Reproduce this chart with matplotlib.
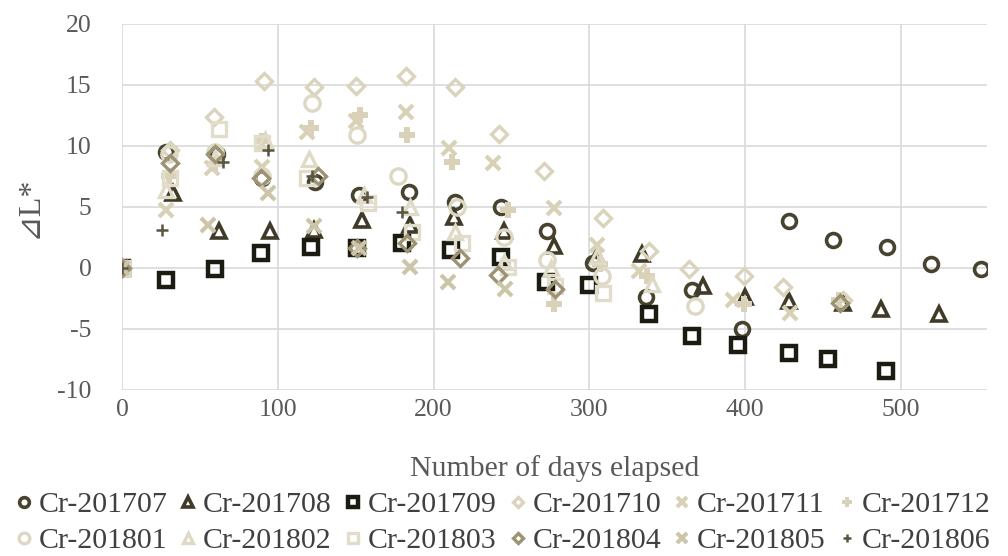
import matplotlib.pyplot as plt
import numpy as np

plt.rcParams['font.family'] = ['Liberation Serif', 'DejaVu Serif', 'DejaVu Sans']
plt.rcParams['axes.unicode_minus'] = False

# measured series (days elapsed, delta L*)
days_201707 = [0, 28, 61, 90, 124, 152, 184, 214, 243, 273, 302, 336, 366, 398, 428, 456, 491, 519, 551]
dl_201707 = [0, 9.5, 9.3, 7.4, 7.0, 6.0, 6.2, 5.4, 5.0, 3.0, 0.4, -2.4, -1.8, -5.0, 3.8, 2.3, 1.7, 0.3, -0.1]

days_201708 = [0, 33, 62, 95, 123, 154, 185, 213, 245, 277, 305, 334, 373, 400, 428, 463, 487, 524]
dl_201708 = [0, 6.1, 3.0, 3.0, 3.1, 3.9, 3.5, 4.2, 3.0, 1.8, 1.0, 1.1, -1.5, -2.4, -2.7, -2.9, -3.4, -3.8]

days_201709 = [0, 28, 60, 89, 121, 151, 180, 211, 243, 272, 300, 338, 366, 395, 428, 453, 490]
dl_201709 = [0, -1.0, -0.1, 1.2, 1.7, 1.6, 2.0, 1.5, 0.9, -1.2, -1.4, -3.8, -5.6, -6.3, -7.0, -7.5, -8.5]

days_201710 = [0, 31, 59, 91, 123, 150, 182, 214, 242, 271, 309, 338, 364, 399, 424, 463]
dl_201710 = [0, 9.7, 12.4, 15.3, 14.8, 14.9, 15.7, 14.8, 11.0, 7.9, 4.1, 1.4, -0.1, -0.7, -1.6, -2.6]

days_201711 = [0, 28, 58, 90, 119, 150, 182, 210, 238, 277, 305, 332, 392, 429]
dl_201711 = [0, 4.7, 8.2, 8.3, 11.1, 12.0, 12.8, 9.8, 8.6, 4.9, 1.9, -0.3, -2.6, -3.7]

days_201712 = [0, 30, 60, 90, 121, 153, 183, 212, 248, 277, 307, 337, 399, 460]
dl_201712 = [0, 7.5, 8.5, 10.4, 11.5, 12.5, 10.9, 8.7, 4.7, -3.0, 0.3, -0.7, -3.0, -2.6]

days_201801 = [0, 30, 60, 90, 122, 151, 177, 215, 245, 273, 308, 368]
dl_201801 = [0, 9.3, 9.5, 7.5, 13.5, 10.9, 7.5, 5.0, 2.5, 0.6, -0.7, -3.1]

days_201802 = [0, 28, 60, 92, 120, 155, 185, 214, 245, 275, 305, 340]
dl_201802 = [0, 6.4, 9.0, 10.5, 8.9, 6.0, 5.0, 2.9, 0.5, 0.0, 1.0, -1.3]

days_201803 = [0, 31, 62, 90, 119, 158, 186, 218, 248, 278, 309]
dl_201803 = [0, 7.4, 11.4, 10.2, 7.4, 5.3, 2.9, 2.0, 0.1, -1.5, -2.1]

days_201804 = [0, 31, 60, 89, 126, 151, 183, 217, 241, 278, 461]
dl_201804 = [0, 8.6, 9.3, 7.4, 7.5, 1.6, 2.0, 0.8, -0.6, -1.7, -2.9]

days_201805 = [0, 55, 94, 123, 152, 185, 209, 246]
dl_201805 = [0, 3.5, 6.1, 3.4, 1.6, 0.1, -1.2, -1.7]

days_201806 = [0, 26, 65, 94, 122, 157, 180]
dl_201806 = [0, 3.1, 8.7, 9.7, 7.5, 5.8, 4.6]

labels = ['Cr-201707', 'Cr-201708', 'Cr-201709', 'Cr-201710', 'Cr-201711', 'Cr-201712',
          'Cr-201801', 'Cr-201802', 'Cr-201803', 'Cr-201804', 'Cr-201805', 'Cr-201806']
xs = [days_201707, days_201708, days_201709, days_201710, days_201711, days_201712,
      days_201801, days_201802, days_201803, days_201804, days_201805, days_201806]
ys = [dl_201707, dl_201708, dl_201709, dl_201710, dl_201711, dl_201712,
      dl_201801, dl_201802, dl_201803, dl_201804, dl_201805, dl_201806]

styles = [
    dict(marker='o', color='#47432e', ms=10, mew=2.6, mfc='none'),
    dict(marker='^', color='#3f3b28', ms=10, mew=2.6, mfc='none'),
    dict(marker='s', color='#1c1b12', ms=10, mew=3.2, mfc='none'),
    dict(marker='D', color='#dad4bd', ms=8, mew=2.4, mfc='none'),
    dict(marker='x', color='#d8d1b6', ms=10, mew=3.0),
    dict(marker='P', color='#d9d2b9', ms=11, mew=0),
    dict(marker='o', color='#ddd8c4', ms=11, mew=2.4, mfc='none'),
    dict(marker='^', color='#dfdac6', ms=10, mew=2.4, mfc='none'),
    dict(marker='s', color='#e2ddca', ms=10, mew=2.4, mfc='none'),
    dict(marker='D', color='#9b9373', ms=8, mew=2.4, mfc='none'),
    dict(marker='x', color='#cdc5a8', ms=10, mew=3.0),
    dict(marker='+', color='#5b5541', ms=9, mew=1.8),
]

fig = plt.figure(figsize=(10.08, 5.56), dpi=100)
ax = fig.add_axes([0.121, 0.299, 0.858, 0.658])

for x, y, lab, st in zip(xs, ys, labels, styles):
    ax.plot(x, y, ls='none', label=lab, **st)

ax.set_xlim(0, 555)
ax.set_ylim(-10, 20)
ax.set_xticks(np.arange(0, 501, 100))
ax.set_yticks(np.arange(-10, 21, 5))
ax.grid(True, color='#d9d9d9', lw=1.2)
ax.set_axisbelow(True)
for s in ax.spines.values():
    s.set_visible(False)
ax.tick_params(length=0, labelsize=18.5, colors='#595959')
ax.tick_params(axis='y', pad=22)
ax.tick_params(axis='x', pad=7)
ax.set_xlabel('Number of days elapsed', fontsize=21.5, color='#595959', labelpad=24)
ax.set_ylabel('⊿L*', fontsize=23, color='#595959', labelpad=10)

# legend filled row by row, like the original
handles, labs = ax.get_legend_handles_labels()
order = [i * 6 + j for j in range(6) for i in range(2)]
leg = fig.legend([handles[k] for k in order], [labs[k] for k in order],
                 loc='lower center', bbox_to_anchor=(0.497, -0.045), ncol=6,
                 frameon=False, fontsize=21.5, handletextpad=0.1, columnspacing=0.3,
                 markerscale=0.7, labelspacing=0.3, handlelength=0.8)
for t in leg.get_texts():
    t.set_color('#404040')

fig.savefig('out.png', dpi=100)
